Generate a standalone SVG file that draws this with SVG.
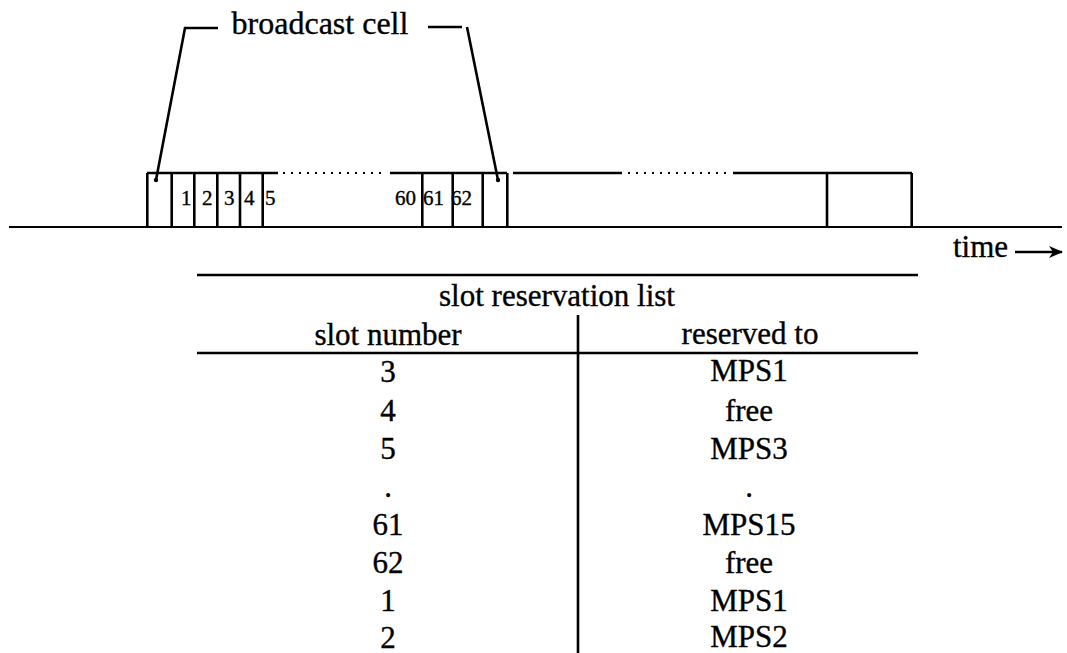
<svg xmlns="http://www.w3.org/2000/svg" width="1067" height="653" viewBox="0 0 1067 653">
<style>
.t{font-family:"Liberation Serif","Times New Roman",serif;fill:#000;stroke:#000;stroke-width:0.35}
.big{font-size:31px}
.sm{font-size:21px}
.ln{stroke:#000;stroke-width:2.6;fill:none}
.th{stroke:#000;stroke-width:1.8;fill:none}
.dot{stroke:#000;stroke-width:2;stroke-dasharray:2 6;fill:none}
</style>
<defs>
<marker id="ah" viewBox="0 0 14 12" refX="13" refY="6" markerWidth="14" markerHeight="12" markerUnits="userSpaceOnUse" orient="auto">
<path d="M0,0 L14,6 L0,12 L4,6 Z" fill="#000"/>
</marker>
</defs>
<rect width="1067" height="653" fill="#fff"/>
<g id="timeline">
<line class="th" x1="9" y1="227" x2="1062" y2="227"/>
<line class="ln" x1="147" y1="173" x2="278" y2="173"/>
<line class="dot" x1="283" y1="173" x2="382" y2="173"/>
<line class="ln" x1="390" y1="173" x2="507" y2="173"/>
<line class="ln" x1="513" y1="173" x2="622" y2="173"/>
<line class="dot" x1="628" y1="173" x2="726" y2="173"/>
<line class="ln" x1="733" y1="173" x2="912" y2="173"/>
<g class="ln">
<line x1="147.3" y1="173" x2="147.3" y2="227"/>
<line x1="171.7" y1="173" x2="171.7" y2="227"/>
<line x1="194.3" y1="173" x2="194.3" y2="227"/>
<line x1="217.3" y1="173" x2="217.3" y2="227"/>
<line x1="240" y1="173" x2="240" y2="227"/>
<line x1="262.7" y1="173" x2="262.7" y2="227"/>
<line x1="422.3" y1="173" x2="422.3" y2="227"/>
<line x1="452.7" y1="173" x2="452.7" y2="227"/>
<line x1="482.7" y1="173" x2="482.7" y2="227"/>
<line x1="507.3" y1="173" x2="507.3" y2="227"/>
<line x1="827" y1="173" x2="827" y2="227"/>
<line x1="911.7" y1="173" x2="911.7" y2="227"/>
</g>
<g class="t sm">
<text x="181" y="205">1</text>
<text x="202" y="205">2</text>
<text x="224" y="205">3</text>
<text x="244" y="205">4</text>
<text x="265" y="205">5</text>
<text x="395" y="205">60</text>
<text x="423" y="205">61</text>
<text x="451" y="205">62</text>
</g>
<text class="t big" x="953" y="257">time</text>
<line stroke="#000" stroke-width="2.6" x1="1015" y1="252" x2="1062" y2="252" marker-end="url(#ah)"/>
</g>
<g id="broadcast-cell">
<text class="t big" x="320" y="34" text-anchor="middle" style="font-size:32px">broadcast cell</text>
<polyline class="ln" points="218,28 185,28 156,180"/>
<line class="ln" x1="428" y1="27" x2="462" y2="27"/>
<line class="ln" x1="467" y1="27" x2="498" y2="180"/>
<circle cx="156" cy="180" r="2.2" fill="#000"/>
<circle cx="498" cy="180" r="2.2" fill="#000"/>
</g>
<g id="reservation-table">
<line class="ln" x1="197" y1="275" x2="918" y2="275"/>
<line class="ln" x1="197" y1="353" x2="918" y2="353"/>
<line class="ln" x1="578" y1="315" x2="578" y2="653"/>
<text class="t big" x="557" y="306" text-anchor="middle">slot reservation list</text>
<g class="t big" text-anchor="middle">
<text x="388" y="345">slot number</text>
<text x="750" y="344">reserved to</text>
<text x="388" y="382">3</text>
<text x="388" y="421">4</text>
<text x="388" y="459">5</text>
<text x="388" y="497">.</text>
<text x="388" y="535">61</text>
<text x="388" y="573">62</text>
<text x="388" y="611">1</text>
<text x="388" y="648">2</text>
<text x="749" y="381">MPS1</text>
<text x="749" y="421">free</text>
<text x="749" y="459">MPS3</text>
<text x="749" y="497">.</text>
<text x="749" y="535">MPS15</text>
<text x="749" y="573">free</text>
<text x="749" y="611">MPS1</text>
<text x="749" y="647">MPS2</text>
</g>
</g>
</svg>
